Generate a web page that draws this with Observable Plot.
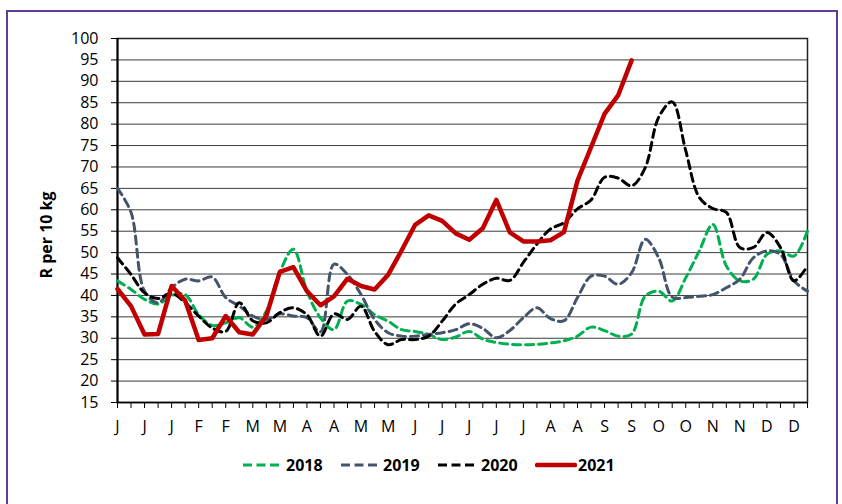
<!DOCTYPE html>
<html><head><meta charset="utf-8">
<script src="https://cdn.jsdelivr.net/npm/d3@7"></script>
<script src="https://cdn.jsdelivr.net/npm/@observablehq/plot@0.6"></script>
<style>
body{margin:0;background:#fff}
#wrap{position:relative;width:842px;height:504px;overflow:hidden;font-family:"Open Sans",sans-serif;background:#fff}
#frame{position:absolute;left:6px;top:10px;width:832px;height:600px;border:2px solid #5d3f98;box-sizing:border-box}
#chart{position:absolute;left:0;top:0}
#ylab{position:absolute;left:46px;top:235px;transform:translate(-50%,-50%) rotate(-90deg);font-weight:bold;font-size:16px;white-space:nowrap;color:#000}
.leg{position:absolute;top:454px;font-weight:bold;font-size:16px;line-height:22px;color:#000}
.sw{position:absolute;top:454px}
</style>
</head><body>
<div id="wrap"><div id="frame"></div><div id="chart"></div><div id="ylab">R per 10 kg</div><div id="legend"></div></div>
<script>
const xLabels = ["J","J","J","F","F","M","M","A","A","M","M","J","J","J","J","J","A","A","S","S","O","O","N","N","D","D"];
const yTicks = [15,20,25,30,35,40,45,50,55,60,65,70,75,80,85,90,95,100];
const years = ["2018","2019","2020","2021"];
const colors = ["#00b050","#44546a","#000000","#c00000"];

const s2018 = [43.4,41.4,39.1,38,40,40.2,35.5,33,33.6,34.8,32.6,36.3,45.5,50.8,41,34.8,32,38.7,37.9,35.5,34,32,31.6,30.9,29.7,30.3,31.6,29.8,29,28.6,28.5,28.6,28.9,29.4,30.5,32.6,31.8,30.5,31,39.8,41,38.7,44.1,50.4,56.6,46.9,43.4,43.8,49.6,50.4,49.2,55.1];
const s2019 = [65,59.4,41,38.3,41.8,43.8,43.4,44.3,39.5,37.5,35.2,34.4,35.7,35.2,34.8,31.5,47.3,44.9,40.2,34.4,31.3,30.5,30.5,30.9,31.3,32,33.4,32.3,30.1,31.8,34.8,37.1,34.6,34.1,39.5,44.5,44.5,42.6,45.3,53.1,48.8,39.6,39.5,39.8,40.2,41.8,43.8,48.8,50.4,49.6,43.4,41];
const s2020 = [48.8,44.9,40.6,39.3,40.5,38.3,35.2,32.4,31.6,38.3,34.1,33.6,36,37.1,35.5,30.5,35.7,34.4,37.5,31.6,28.5,29.7,29.7,30.5,34,38,40.2,42.6,44,43.5,47.7,52,55.5,57,60.2,62.3,67.6,67.4,65.6,69.8,81.6,85.2,73.8,62.9,60.3,59.4,51.2,51.2,54.7,51.2,43.4,46.9];
const s2021 = [41.5,37.5,30.9,31,42.2,38.8,29.6,30,35.2,31.4,30.9,35.2,45.5,46.6,41,37.7,39.8,43.9,42.2,41.4,44.8,50.5,56.5,58.7,57.4,54.5,53,55.7,62.3,54.7,52.6,52.6,52.9,54.8,66.8,74.6,82.4,86.7,94.9];

const weekIdx = s2018.map((_, i) => i);
const rows = s => s.map((v, i) => ({i, v}));

const dashed = (s, c) => Plot.line(rows(s), {x: "i", y: "v", stroke: c, strokeWidth: 3, strokeDasharray: "8,5", curve: "catmull-rom"});

const chart = Plot.plot({
  width: 842, height: 440,
  marginLeft: 117, marginRight: 35, marginTop: 38, marginBottom: 38,
  style: {fontFamily: "'Open Sans', sans-serif", fontSize: "16px", color: "#000", background: "transparent"},
  x: {domain: [0, 51], axis: null},
  y: {domain: [15, 100], axis: null},
  marks: [
    Plot.ruleY(yTicks, {stroke: "#3c3c3c", strokeWidth: 1}),
    Plot.frame({stroke: "#222", strokeWidth: 1.5}),
    Plot.axisY({ticks: yTicks, tickSize: 6, tickPadding: 13, fontSize: 16, label: null, stroke: "#000"}),
    Plot.axisX({ticks: weekIdx, tickSize: 6, tickPadding: 12, fontSize: 16, label: null, stroke: "#000",
      tickFormat: i => (i % 2 === 0 ? xLabels[i / 2] : "")}),
    Plot.ruleX([0], {stroke: "#000", strokeWidth: 2}),
    Plot.ruleY([15], {stroke: "#000", strokeWidth: 1.5}),
    dashed(s2018, colors[0]),
    dashed(s2019, colors[1]),
    dashed(s2020, colors[2]),
    Plot.line(rows(s2021), {x: "i", y: "v", stroke: colors[3], strokeWidth: 4.5, strokeLinejoin: "round"})
  ]
});
document.getElementById("chart").appendChild(chart);

// legend
const legend = document.getElementById("legend");
const swX = [243, 341, 438, 535];
const txX = [286, 383, 481, 578];
years.forEach((y, k) => {
  const sw = document.createElementNS("http://www.w3.org/2000/svg", "svg");
  const w = k === 3 ? 42 : 36;
  sw.setAttribute("width", w); sw.setAttribute("height", 22);
  sw.setAttribute("class", "sw");
  sw.style.left = swX[k] + "px";
  const ln = document.createElementNS("http://www.w3.org/2000/svg", "line");
  ln.setAttribute("x1", k === 3 ? 2 : 0); ln.setAttribute("x2", k === 3 ? w - 2 : w);
  ln.setAttribute("y1", 11); ln.setAttribute("y2", 11);
  ln.setAttribute("stroke", colors[k]);
  ln.setAttribute("stroke-width", k === 3 ? 4.5 : 3);
  if (k === 3) ln.setAttribute("stroke-linecap", "round");
  else ln.setAttribute("stroke-dasharray", "9,4.5");
  sw.appendChild(ln);
  legend.appendChild(sw);
  const t = document.createElement("div");
  t.className = "leg"; t.style.left = txX[k] + "px"; t.textContent = y;
  legend.appendChild(t);
});
</script>
</body></html>
